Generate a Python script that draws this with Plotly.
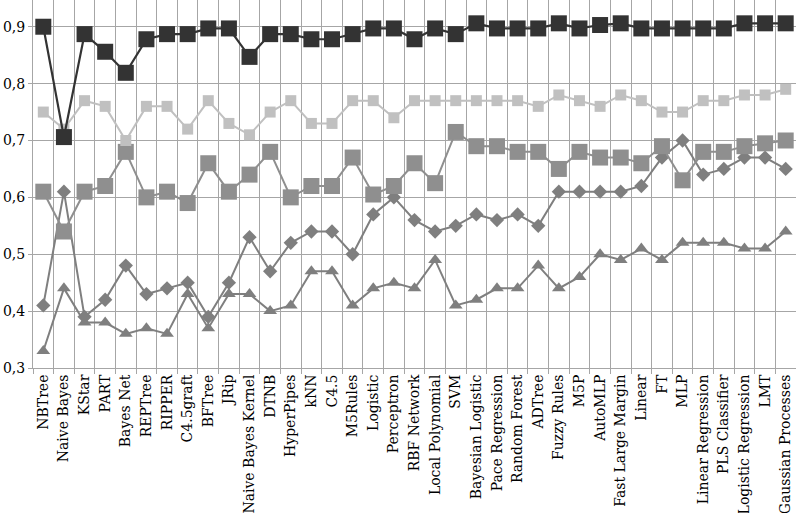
import plotly.graph_objects as go

categories = ["NBTree", "Naive Bayes", "KStar", "PART", "Bayes Net", "REPTree", "RIPPER",
              "C4.5graft", "BFTree", "JRip", "Naive Bayes Kernel", "DTNB", "HyperPipes", "kNN",
              "C4.5", "M5Rules", "Logistic", "Perceptron", "RBF Network", "Local Polynomial",
              "SVM", "Bayesian Logistic", "Pace Regression", "Random Forest", "ADTree",
              "Fuzzy Rules", "M5P", "AutoMLP", "Fast Large Margin", "Linear", "FT", "MLP",
              "Linear Regression", "PLS Classifier", "Logistic Regression", "LMT",
              "Gaussian Processes"]

dark_sq = [0.90, 0.706, 0.887, 0.856, 0.819, 0.878, 0.887, 0.887, 0.897, 0.897, 0.847, 0.887,
           0.887, 0.878, 0.878, 0.887, 0.897, 0.897, 0.878, 0.897, 0.887, 0.906, 0.897, 0.897,
           0.897, 0.906, 0.897, 0.903, 0.906, 0.897, 0.897, 0.897, 0.897, 0.897, 0.906, 0.906,
           0.906]
light_sq = [0.75, 0.72, 0.77, 0.76, 0.70, 0.76, 0.76, 0.72, 0.77, 0.73, 0.71, 0.75, 0.77, 0.73,
            0.73, 0.77, 0.77, 0.74, 0.77, 0.77, 0.77, 0.77, 0.77, 0.77, 0.76, 0.78, 0.77, 0.76,
            0.78, 0.77, 0.75, 0.75, 0.77, 0.77, 0.78, 0.78, 0.79]
mid_sq = [0.61, 0.54, 0.61, 0.62, 0.68, 0.60, 0.61, 0.59, 0.66, 0.61, 0.64, 0.68, 0.60, 0.62,
          0.62, 0.67, 0.605, 0.62, 0.66, 0.625, 0.715, 0.69, 0.69, 0.68, 0.68, 0.65, 0.68, 0.67,
          0.67, 0.66, 0.69, 0.63, 0.68, 0.68, 0.69, 0.695, 0.70]
diamonds = [0.41, 0.61, 0.39, 0.42, 0.48, 0.43, 0.44, 0.45, 0.39, 0.45, 0.53, 0.47, 0.52, 0.54,
            0.54, 0.50, 0.57, 0.60, 0.56, 0.54, 0.55, 0.57, 0.56, 0.57, 0.55, 0.61, 0.61, 0.61,
            0.61, 0.62, 0.67, 0.70, 0.64, 0.65, 0.67, 0.67, 0.65]
triangles = [0.33, 0.44, 0.38, 0.38, 0.36, 0.37, 0.36, 0.43, 0.37, 0.43, 0.43, 0.40, 0.41, 0.47,
             0.47, 0.41, 0.44, 0.45, 0.44, 0.49, 0.41, 0.42, 0.44, 0.44, 0.48, 0.44, 0.46, 0.50,
             0.49, 0.51, 0.49, 0.52, 0.52, 0.52, 0.51, 0.51, 0.54]

FONT = "DejaVu Serif"

fig = go.Figure()

def add(y, color, symbol, size, lw):
    fig.add_trace(go.Scatter(x=categories, y=y, mode="lines+markers",
                             line=dict(color=color, width=lw),
                             marker=dict(symbol=symbol, size=size, color=color),
                             showlegend=False, cliponaxis=False))

add(triangles, "#7f7f7f", "triangle-up", 12, 2)
add(diamonds, "#7f7f7f", "diamond", 11, 2)
add(mid_sq, "#8f8f8f", "square", 16, 2)
add(light_sq, "#c0c0c0", "square", 11, 2)
add(dark_sq, "#333333", "square", 16, 2.2)

fig.update_layout(
    width=796, height=513,
    margin=dict(l=33, r=0, t=0, b=145, autoexpand=False),
    plot_bgcolor="white", paper_bgcolor="white",
    separators=", ",
    font=dict(family=FONT, size=14, color="black"),
    xaxis=dict(
        type="category", tickson="boundaries", showgrid=True, gridcolor="#a6a6a6",
        gridwidth=1, ticks="outside", ticklen=5, tickcolor="#a6a6a6", tickangle=-90,
        showline=True, linecolor="#a6a6a6", range=[-0.5, 36.5], automargin=False,
        tickfont=dict(family=FONT, size=14, color="black"),
    ),
    yaxis=dict(
        range=[0.3, 0.947], dtick=0.1, tick0=0.3, tickformat=".1f",
        showgrid=True, gridcolor="#a6a6a6", gridwidth=1, zeroline=False,
        showline=True, linecolor="#a6a6a6", ticks="outside", ticklen=4,
        tickcolor="#a6a6a6", automargin=False,
        tickfont=dict(family=FONT, size=14, color="black"),
    ),
)

fig.write_html("out.html", config={"displayModeBar": False},
               post_script="document.body.style.margin='0';document.body.style.overflow='hidden';")
